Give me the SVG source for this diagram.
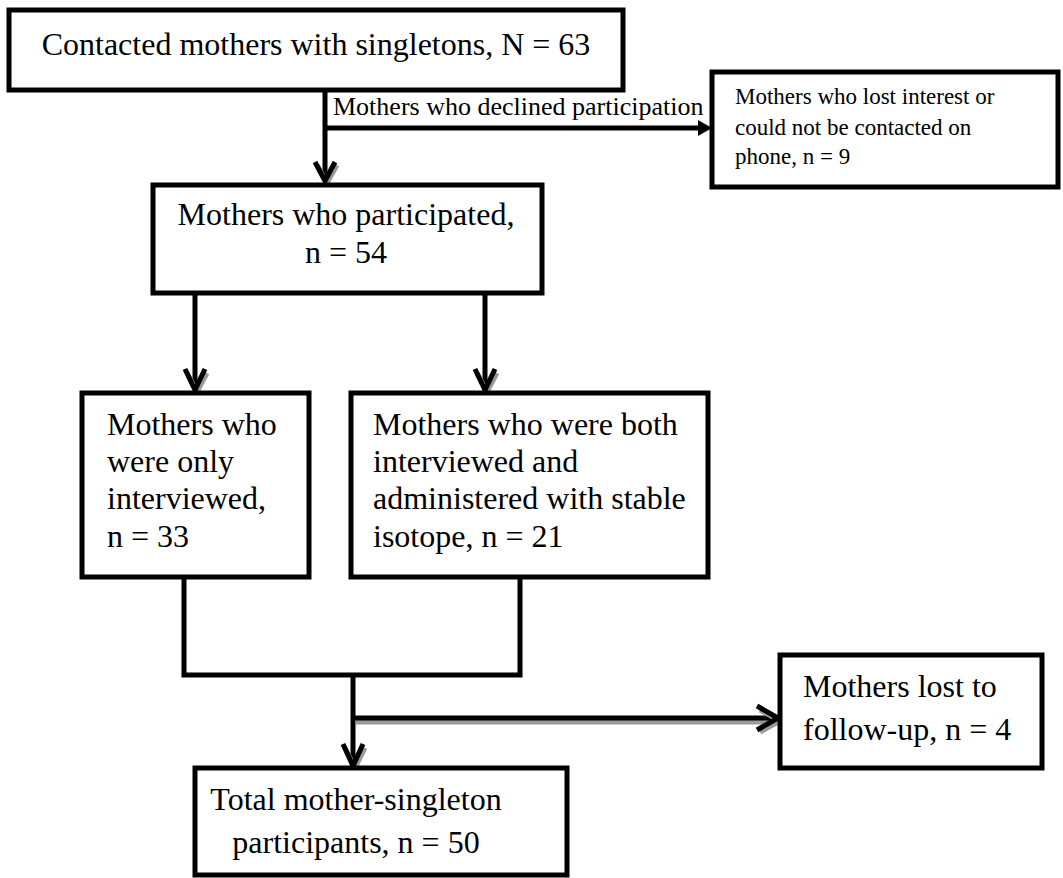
<svg xmlns="http://www.w3.org/2000/svg" width="1063" height="878" viewBox="0 0 1063 878">
<style>
.box{fill:#fff;stroke:#000;stroke-width:5}
.t{font-family:"Liberation Serif","Times New Roman",serif;font-size:32px;fill:#000}
.s{font-family:"Liberation Serif","Times New Roman",serif;font-size:23px;fill:#000}
.l{font-family:"Liberation Serif","Times New Roman",serif;font-size:26px;fill:#000}
.ln{fill:none;stroke:#000;stroke-width:5}
.sh{fill:none;stroke:#9a9a9a;stroke-width:5}
</style>
<rect width="1063" height="878" fill="#fff"/>
<g id="connectors">
  <path class="ln" d="M325 90 V181"/>
  <path class="sh" d="M317 165 L327 183 L337 165"/>
  <path class="ln" d="M315 162 L325 181 L335 162"/>
  <path class="ln" d="M325 128 H700"/>
  <polygon points="698,120 712,128 698,136" fill="#000"/>
  <text class="l" x="333" y="115">Mothers who declined participation</text>
  <path class="ln" d="M195 293 V390"/>
  <path class="sh" d="M187 373 L197 392 L207 373"/>
  <path class="ln" d="M185 369 L195 390 L205 369"/>
  <path class="ln" d="M485 293 V390"/>
  <path class="sh" d="M477 373 L487 392 L497 373"/>
  <path class="ln" d="M475 369 L485 390 L495 369"/>
  <path class="ln" d="M184 577 V675 H520 V577"/>
  <path class="ln" d="M353 675 V766"/>
  <path class="sh" d="M345 748 L355 768 L365 748"/>
  <path class="ln" d="M343 744 L353 766 L363 744"/>
  <path class="sh" d="M356 722 H776"/>
  <path class="ln" d="M353 718 H776"/>
  <path class="sh" d="M760 710 L780 721 L760 732"/>
  <path class="ln" d="M757 706 L778 718 L757 730"/>
</g>
<g id="n1">
  <rect class="box" x="9" y="10" width="614" height="80"/>
  <text class="t" x="316" y="55" text-anchor="middle">Contacted mothers with singletons, N = 63</text>
</g>
<g id="n2">
  <rect class="box" x="712" y="72" width="346" height="115"/>
  <text class="s" x="735" y="104">Mothers who lost interest or</text>
  <text class="s" x="735" y="135">could not be contacted on</text>
  <text class="s" x="735" y="164">phone, n = 9</text>
</g>
<g id="n3">
  <rect class="box" x="153" y="185" width="389" height="108"/>
  <text class="t" x="346" y="225" text-anchor="middle">Mothers who participated,</text>
  <text class="t" x="346" y="263" text-anchor="middle">n = 54</text>
</g>
<g id="n4">
  <rect class="box" x="82" y="393" width="227" height="184"/>
  <text class="t" x="107" y="435">Mothers who</text>
  <text class="t" x="107" y="472">were only</text>
  <text class="t" x="107" y="509">interviewed,</text>
  <text class="t" x="107" y="547">n = 33</text>
</g>
<g id="n5">
  <rect class="box" x="351" y="393" width="357" height="184"/>
  <text class="t" x="373" y="435">Mothers who were both</text>
  <text class="t" x="373" y="472">interviewed and</text>
  <text class="t" x="373" y="509">administered with stable</text>
  <text class="t" x="373" y="547">isotope, n = 21</text>
</g>
<g id="n6">
  <rect class="box" x="780" y="655" width="262" height="113"/>
  <text class="t" x="803" y="697">Mothers lost to</text>
  <text class="t" x="803" y="740">follow-up, n = 4</text>
</g>
<g id="n7">
  <rect class="box" x="195" y="768" width="372" height="107"/>
  <text class="t" x="356" y="810" text-anchor="middle">Total mother-singleton</text>
  <text class="t" x="356" y="853" text-anchor="middle">participants, n = 50</text>
</g>
</svg>
